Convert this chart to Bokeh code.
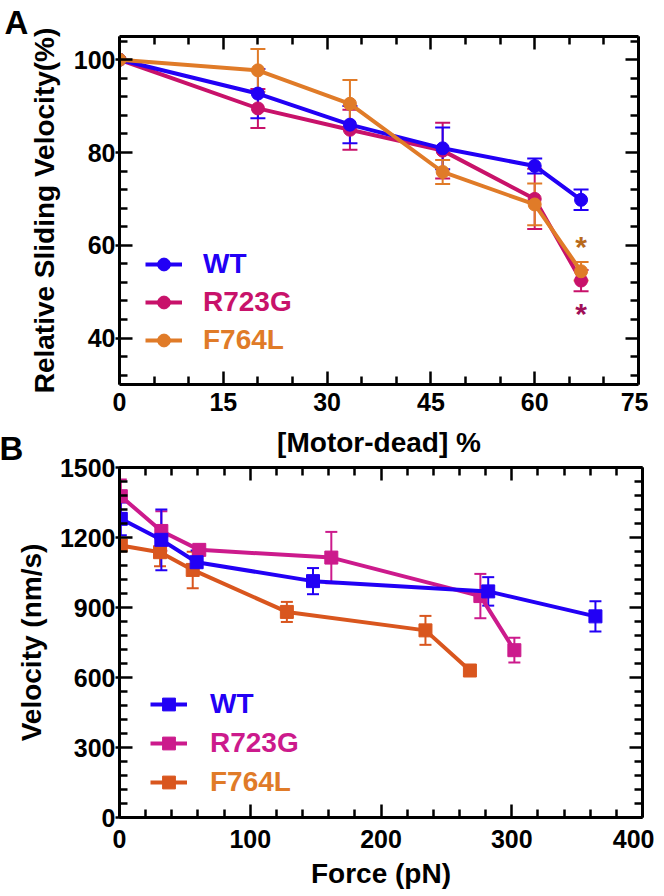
from bokeh.plotting import figure
from bokeh.models import (LinearAxis, FixedTicker, Whisker, TeeHead, ColumnDataSource,
                          Legend, LegendItem, Range1d, Title)
from bokeh.layouts import column
from bokeh.embed import file_html
from bokeh.resources import INLINE
from bokeh.core.properties import value

FONT = "Liberation Sans"

# ---------------- Panel A data ----------------
dead_pct = [0, 20, 33.3, 46.7, 60, 66.7]
wt_a = [100, 92.7, 86.0, 80.9, 77.1, 69.8]
wt_a_err = [0, 5.3, 4.0, 4.5, 1.6, 2.2]
r723g_a = [100, 89.5, 84.9, 80.4, 70.0, 52.4]
r723g_a_err = [0, 4.2, 4.3, 6.0, 6.5, 2.3]
f764l_a = [100, 97.7, 90.5, 75.8, 68.8, 54.4]
f764l_a_err = [0, 4.6, 5.1, 2.6, 4.5, 2.0]
star_x = [66.7, 66.7]
star_y = [60.2, 45.8]
star_colors = ["#B86A1C", "#A01058"]
xticks_a = [0, 15, 30, 45, 60, 75]
yticks_a = [40, 60, 80, 100]

# ---------------- Panel B data ----------------
wt_force = [1, 32, 59, 148, 282, 364]
wt_vel = [1280, 1190, 1094, 1013, 969, 862]
wt_vel_err = [70, 130, 50, 56, 61, 65]
r723g_force = [1, 32, 61, 162, 276, 302]
r723g_vel = [1377, 1228, 1147, 1114, 949, 717]
r723g_vel_err = [72, 85, 20, 110, 95, 53]
f764l_force = [1, 31, 56, 128, 234, 268]
f764l_vel = [1166, 1137, 1061, 881, 802, 630]
f764l_vel_err = [15, 60, 78, 43, 62, 0]
xticks_b = [0, 100, 200, 300, 400]
yticks_b = [0, 300, 600, 900, 1200, 1500]

BLUE = "#2200F5"
A_RED = "#C8126A"
A_ORANGE = "#E07B28"
B_MAG = "#CC1A8C"
B_ORANGE = "#D9561E"


def style_axis(ax, show_labels=True, tick_out=0, standoff=0):
    ax.axis_line_width = 3
    ax.axis_line_color = "black"
    ax.major_tick_line_width = 2.5
    ax.minor_tick_line_width = 2.5
    ax.major_tick_line_color = "black"
    ax.minor_tick_line_color = "black"
    ax.major_tick_in = 13
    ax.major_tick_out = tick_out
    ax.minor_tick_in = 8
    ax.minor_tick_out = 0
    ax.major_label_standoff = standoff
    ax.major_label_text_font = FONT
    ax.major_label_text_font_style = "bold"
    ax.major_label_text_color = "black"
    ax.axis_label_text_font = FONT
    ax.axis_label_text_font_size = "28px"
    ax.axis_label_text_font_style = "bold"
    ax.axis_label_text_color = "black"
    ax.major_label_text_font_size = "25px" if show_labels else "1px"


def frame_axes(p, xt, xminor, yt, yminor):
    bottom = p.below[0]
    left = p.left[0]
    xtk = FixedTicker(ticks=xt, minor_ticks=xminor)
    ytk = FixedTicker(ticks=yt, minor_ticks=yminor)
    bottom.ticker = xtk
    left.ticker = ytk
    top = LinearAxis(ticker=xtk, major_label_overrides={t: "" for t in xt})
    right = LinearAxis(ticker=ytk, major_label_overrides={t: "" for t in yt})
    style_axis(top, False)
    style_axis(right, False)
    p.add_layout(top, "above")
    p.add_layout(right, "right")
    p.xgrid.visible = False
    p.ygrid.visible = False
    p.outline_line_alpha = 0
    return bottom, left


def series(p, xs, ys, errs, color, marker, size, cap):
    src = ColumnDataSource(dict(x=xs, y=ys))
    ex = [x for x, e in zip(xs, errs) if e > 0]
    eu = [y + e for y, e in zip(ys, errs) if e > 0]
    el = [y - e for y, e in zip(ys, errs) if e > 0]
    esrc = ColumnDataSource(dict(x=ex, upper=eu, lower=el))
    w = Whisker(source=esrc, base="x", upper="upper", lower="lower",
                line_color=color, line_width=2,
                upper_head=TeeHead(size=cap, line_color=color, line_width=2),
                lower_head=TeeHead(size=cap, line_color=color, line_width=2))
    p.add_layout(w)
    lr = p.line("x", "y", source=src, line_color=color, line_width=4)
    sr = p.scatter("x", "y", source=src, marker=marker, size=size,
                   fill_color=color, line_color=color)
    return [lr, sr]


def add_legends(p, entries, x0, ys, standoff):
    for (label, rends, color), y in zip(entries, ys):
        lg = Legend(items=[LegendItem(label=label, renderers=rends)],
                    location=(x0, y), glyph_width=37, glyph_height=32,
                    label_height=32, label_standoff=standoff, padding=0, margin=0,
                    spacing=0, border_line_alpha=0, background_fill_alpha=0,
                    label_text_font=FONT, label_text_font_size="28px",
                    label_text_font_style="bold", label_text_color=color)
        p.add_layout(lg)


# ---------------- Figure A ----------------
pA = figure(title=None, frame_width=519, frame_height=348,
            x_range=Range1d(0, 75), y_range=Range1d(30, 105),
            min_border_left=119, min_border_right=10,
            min_border_top=36, min_border_bottom=86,
            output_backend="svg", toolbar_location=None,
            background_fill_color="white", border_fill_color="white")
axA_x, axA_y = frame_axes(pA, xticks_a, [v for v in range(5, 75, 5) if v % 15], yticks_a,
                          [v for v in range(32, 105, 4) if v % 20])
style_axis(axA_x, True, 0, 8)
style_axis(axA_y, True, 4, 0)
axA_y.axis_label = "Relative Sliding Velocity(%)"
axA_y.axis_label_standoff = 11

rA_r = series(pA, dead_pct, r723g_a, r723g_a_err, A_RED, "circle", 13, 15)
rA_w = series(pA, dead_pct, wt_a, wt_a_err, BLUE, "circle", 13, 15)
rA_f = series(pA, dead_pct, f764l_a, f764l_a_err, A_ORANGE, "circle", 13, 15)

star_src = ColumnDataSource(dict(x=star_x, y=star_y, t=["*", "*"], c=star_colors))
pA.text("x", "y", text="t", source=star_src, text_color="c",
        text_font=value(FONT), text_font_size="30px", text_font_style="bold",
        text_align="center", text_baseline="alphabetic", y_offset=2)

add_legends(pA, [("WT", rA_w, BLUE), ("R723G", rA_r, A_RED), ("F764L", rA_f, A_ORANGE)],
            26, [104, 66, 28], 21)

# panel letter A (above the frame)
pA.add_layout(Title(text="A", align="left", vertical_align="middle", offset=-115,
                    standoff=-10, text_font=FONT, text_font_size="33px",
                    text_font_style="bold", text_color="black"), "above")
# x-axis title of A, and panel letter B, stacked below the bottom axis
pA.add_layout(Title(text=" ", text_font_size="2px", standoff=24), "below")
pA.add_layout(Title(text="[Motor-dead] %", align="center", vertical_align="middle",
                    standoff=-31, text_font=FONT, text_font_size="28px",
                    text_font_style="bold", text_color="black"), "below")
pA.add_layout(Title(text="B", align="left", vertical_align="middle", offset=-120,
                    standoff=-29, text_font=FONT, text_font_size="33px",
                    text_font_style="bold", text_color="black"), "below")

# ---------------- Figure B ----------------
pB = figure(title=None, frame_width=523, frame_height=350,
            x_range=Range1d(0, 400), y_range=Range1d(0, 1500),
            min_border_left=117, min_border_right=14,
            min_border_top=27, min_border_bottom=79,
            output_backend="svg", toolbar_location=None,
            background_fill_color="white", border_fill_alpha=0)
pB.margin = (-30, 0, 0, 0)
axB_x, axB_y = frame_axes(pB, xticks_b, [v for v in range(20, 400, 20) if v % 100], yticks_b,
                          [v for v in range(60, 1500, 60) if v % 300])
style_axis(axB_x, True, 0, 12)
style_axis(axB_y, True, 4, 0)
axB_x.axis_label = "Force (pN)"
axB_y.axis_label = "Velocity (nm/s)"
axB_x.axis_label_standoff = 7
axB_y.axis_label_standoff = 10

rB_f = series(pB, f764l_force, f764l_vel, f764l_vel_err, B_ORANGE, "square", 13, 12)
rB_r = series(pB, r723g_force, r723g_vel, r723g_vel_err, B_MAG, "square", 13, 12)
rB_w = series(pB, wt_force, wt_vel, wt_vel_err, BLUE, "square", 13, 12)

add_legends(pB, [("WT", rB_w, BLUE), ("R723G", rB_r, B_MAG), ("F764L", rB_f, A_ORANGE)],
            31, [97, 58, 19], 23)

layout = column(pA, pB)
open("out.html", "w").write(file_html(layout, INLINE))
